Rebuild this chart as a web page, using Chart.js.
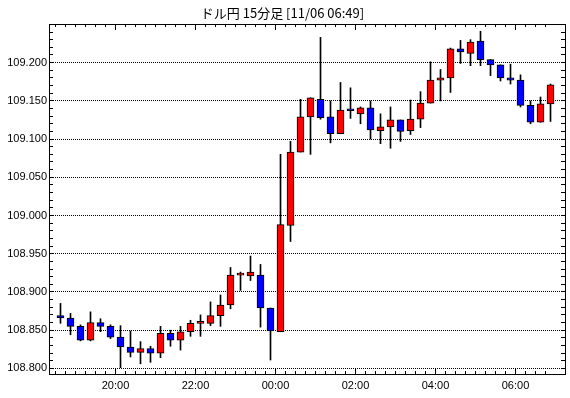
<!DOCTYPE html>
<html>
<head>
<meta charset="utf-8">
<title>ドル円 15分足</title>
<script src="https://cdn.jsdelivr.net/npm/chart.js@4.4.0/dist/chart.umd.min.js"></script>
<style>
  html, body { margin: 0; padding: 0; background: #fff; }
</style>
</head>
<body>
<canvas id="candleChart" width="570" height="398"></canvas>
<script>
// 15-minute candles, 18:30 (11/05) .. 06:45 (11/06)
const times = [
  '18:30', '18:45', '19:00', '19:15', '19:30', '19:45', '20:00', '20:15', '20:30', '20:45',
  '21:00', '21:15', '21:30', '21:45', '22:00', '22:15', '22:30', '22:45', '23:00', '23:15',
  '23:30', '23:45', '00:00', '00:15', '00:30', '00:45', '01:00', '01:15', '01:30', '01:45',
  '02:00', '02:15', '02:30', '02:45', '03:00', '03:15', '03:30', '03:45', '04:00', '04:15',
  '04:30', '04:45', '05:00', '05:15', '05:30', '05:45', '06:00', '06:15', '06:30', '06:45'
];
const opens = [
  108.869, 108.866, 108.855, 108.837, 108.860, 108.855, 108.841, 108.828, 108.821, 108.826,
  108.820, 108.846, 108.837, 108.848, 108.859, 108.859, 108.869, 108.883, 108.922, 108.921,
  108.922, 108.879, 108.848, 108.987, 109.083, 109.129, 109.152, 109.129, 109.107, 109.139,
  109.133, 109.141, 109.111, 109.116, 109.125, 109.111, 109.126, 109.147, 109.177, 109.180,
  109.218, 109.212, 109.228, 109.204, 109.197, 109.180, 109.177, 109.144, 109.122, 109.146
];
const highs = [
  108.885, 108.872, 108.857, 108.874, 108.865, 108.857, 108.856, 108.849, 108.835, 108.829,
  108.855, 108.850, 108.855, 108.863, 108.870, 108.887, 108.896, 108.932, 108.926, 108.947,
  108.936, 108.879, 109.080, 109.097, 109.152, 109.154, 109.233, 109.150, 109.174, 109.167,
  109.142, 109.150, 109.133, 109.142, 109.125, 109.151, 109.162, 109.201, 109.191, 109.219,
  109.229, 109.230, 109.241, 109.204, 109.197, 109.198, 109.184, 109.150, 109.155, 109.172
];
const lows = [
  108.859, 108.844, 108.836, 108.836, 108.848, 108.839, 108.801, 108.815, 108.806, 108.808,
  108.814, 108.829, 108.824, 108.842, 108.842, 108.856, 108.855, 108.878, 108.902, 108.915,
  108.854, 108.811, 108.848, 108.966, 109.083, 109.080, 109.126, 109.095, 109.107, 109.127,
  109.120, 109.100, 109.094, 109.088, 109.097, 109.106, 109.115, 109.147, 109.150, 109.161,
  109.199, 109.196, 109.196, 109.183, 109.176, 109.172, 109.142, 109.120, 109.122, 109.123
];
const closes = [
  108.866, 108.855, 108.837, 108.860, 108.855, 108.841, 108.828, 108.821, 108.826, 108.820,
  108.846, 108.837, 108.848, 108.859, 108.859, 108.869, 108.883, 108.922, 108.922, 108.926,
  108.879, 108.849, 108.988, 109.083, 109.129, 109.154, 109.128, 109.107, 109.138, 109.137,
  109.141, 109.112, 109.116, 109.125, 109.110, 109.126, 109.147, 109.177, 109.180, 109.218,
  109.214, 109.227, 109.204, 109.197, 109.180, 109.177, 109.144, 109.122, 109.146, 109.171
];

const xTickLabels = ['20:00', '22:00', '00:00', '02:00', '04:00', '06:00'];
const yTickValues = [108.80, 108.85, 108.90, 108.95, 109.00, 109.05, 109.10, 109.15, 109.20];

const upColor = '#ff0000';
const downColor = '#0000ff';

// ticks sit on the boundary before each labelled candle
const xTickPos = xTickLabels.map(t => times.indexOf(t) - 0.5);

const wickData = times.map((t, i) => ({ x: i, y: [lows[i], highs[i]] }));
const bodyData = times.map((t, i) => ({ x: i, y: [opens[i], closes[i]] }));
const bodyColors = times.map((t, i) => closes[i] >= opens[i] ? upColor : downColor);

// frame plus the small inward ticks on all four sides
const frameTicks = {
  id: 'frameTicks',
  afterDraw(chart) {
    const { ctx, chartArea: a, scales: { x, y } } = chart;
    ctx.save();
    ctx.strokeStyle = '#000';
    ctx.lineWidth = 1;
    ctx.setLineDash([]);
    ctx.beginPath();
    for (let k = 10880; k <= 10925; k++) {
      const py = Math.floor(y.getPixelForValue(k / 100)) + 0.5;
      ctx.moveTo(a.left, py); ctx.lineTo(a.left + 4, py);
      ctx.moveTo(a.right, py); ctx.lineTo(a.right - 4, py);
    }
    for (let i = 0; i < times.length; i++) {
      const v = i - 0.5;
      if (v < x.min) continue;
      const px = Math.floor(x.getPixelForValue(v)) + 0.5;
      const len = xTickPos.includes(v) ? 6 : 3;
      ctx.moveTo(px, a.bottom); ctx.lineTo(px, a.bottom - len);
      ctx.moveTo(px, a.top); ctx.lineTo(px, a.top + len);
    }
    ctx.stroke();
    ctx.strokeRect(a.left + 0.5, a.top + 0.5, a.right - a.left, a.bottom - a.top);
    ctx.restore();
  }
};

const ctx = document.getElementById('candleChart').getContext('2d');
const candleChart = new Chart(ctx, {
  type: 'bar',
  data: {
    datasets: [{
      label: 'wick',
      data: wickData,
      backgroundColor: '#000',
      borderWidth: 0,
      barThickness: 1,
      grouped: false,
      order: 2
    }, {
      label: 'body',
      data: bodyData,
      backgroundColor: bodyColors,
      borderColor: '#000',
      borderWidth: 1,
      borderSkipped: false,
      barThickness: 7,
      minBarLength: 2,
      grouped: false,
      order: 1
    }]
  },
  options: {
    responsive: false,
    animation: false,
    devicePixelRatio: 1,
    layout: { padding: { left: 0, right: 5, top: 0, bottom: 0 } },
    plugins: {
      legend: { display: false },
      tooltip: { enabled: false },
      title: {
        display: true,
        text: 'ドル円 15分足 [11/06 06:49]',
        color: '#000',
        font: { family: '"Noto Sans CJK JP", sans-serif', size: 13, weight: 'normal', lineHeight: '16px' },
        padding: { top: 5, bottom: 3 }
      }
    },
    scales: {
      x: {
        type: 'linear',
        min: -1.15,
        max: 50.45,
        offset: false,
        afterBuildTicks: scale => { scale.ticks = xTickPos.map(v => ({ value: v })); },
        afterFit: scale => { scale.height = 24; },
        ticks: {
          autoSkip: false,
          maxRotation: 0,
          padding: 5,
          color: '#000',
          font: { family: '"Liberation Sans", Arial, sans-serif', size: 11 },
          callback: (value, index) => xTickLabels[index]
        },
        grid: { display: false, drawTicks: false },
        border: { display: false }
      },
      y: {
        type: 'linear',
        min: 108.7927,
        max: 109.2505,
        afterBuildTicks: scale => { scale.ticks = yTickValues.map(v => ({ value: v })); },
        afterFit: scale => { scale.width = 49; },
        ticks: {
          padding: 2,
          color: '#000',
          font: { family: '"Liberation Sans", Arial, sans-serif', size: 11 },
          callback: value => value.toFixed(3)
        },
        grid: { color: '#000', lineWidth: 1, drawTicks: false },
        border: { display: false, dash: [1, 1] }
      }
    }
  },
  plugins: [frameTicks]
});
</script>
</body>
</html>
